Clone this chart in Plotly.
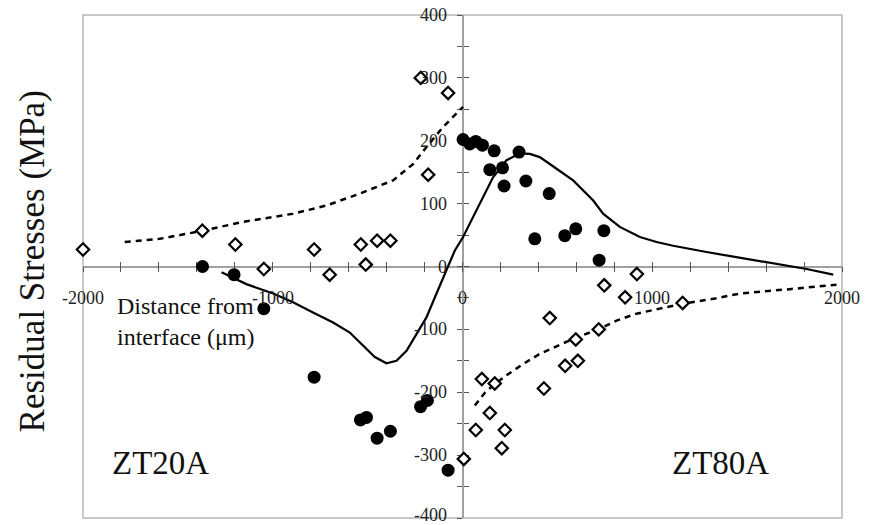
import plotly.graph_objects as go

# ---------------- data ----------------
# filled circles
circ_x = [-1370, -1204, -1047, -782, -538, -506, -450, -380, -221, -185, -76,
          3, 38, 70, 105, 167, 144, 211, 219, 298, 334, 457, 381, 539, 597, 745, 720]
circ_y = [0, -13, -67, -176, -244, -240, -273, -262, -223, -213, -324,
          202, 195, 199, 193, 184, 154, 157, 128, 182, 136, 116, 44, 49, 60, 57, 10]

# open diamonds
diam_x = [-2000, -1371, -1197, -1047, -782, -700, -536, -510, -450, -380, -220, -76, -181,
          7, 70, 102, 144, 170, 207, 223, 429, 460, 541, 597, 608, 718, 747, 857, 919, 1160]
diam_y = [27, 57, 35, -4, 27, -13, 35, 3, 41, 41, 300, 276, 146,
          -306, -260, -179, -233, -186, -289, -260, -194, -82, -158, -116, -150, -100, -30, -49, -12, -58]

# solid model curve
solid_x = [-1270, -1139, -998, -893, -788, -682, -594, -524, -462, -401, -348, -295, -242,
           -190, -137, -84, -41, 3, 74, 161, 232, 302, 355, 407, 460, 583, 689, 741, 829,
           935, 1023, 1110, 1286, 1462, 1637, 1813, 1954]
solid_y = [-9, -28, -43, -57, -73, -89, -105, -126, -144, -154, -150, -134, -107,
           -81, -43, -6, 25, 47, 89, 142, 169, 180, 179, 174, 163, 137, 105, 84, 63,
           47, 39, 33, 23, 14, 4, -4, -13]

# dashed model curves
dashL_x = [-1780, -1596, -1367, -1157, -893, -717, -541, -366, -260, -190, -102, 3]
dashL_y = [39, 44, 57, 71, 84, 97, 116, 137, 163, 190, 222, 254]
dashR_x = [65, 120, 170, 232, 320, 407, 583, 724, 812, 917, 1040, 1163, 1330, 1462, 1725, 1971]
dashR_y = [-221, -200, -187, -173, -155, -139, -115, -99, -86, -75, -67, -59, -51, -43, -36, -29]

# ticks
x_tick_vals = list(range(-2000, 2001, 200))
x_label_vals = [-2000, -1000, 0, 1000, 2000]
x_label_text = ["-2000", "-1000", "0", "1000", "2000"]
y_tick_vals = list(range(-400, 401, 50))
y_label_vals = [400, 300, 200, 100, 0, -100, -200, -300, -400]
y_label_text = ["400", "300", "200", "100", "0", "-100", "-200", "-300", "-400"]

SERIF = "Liberation Serif, Times New Roman, serif"

fig = go.Figure()
dash_style = dict(color="black", width=2.5, dash="6px,5px")
fig.add_trace(go.Scatter(x=dashL_x, y=dashL_y, mode="lines", line=dash_style,
                         cliponaxis=False, showlegend=False, hoverinfo="skip"))
fig.add_trace(go.Scatter(x=dashR_x, y=dashR_y, mode="lines", line=dash_style,
                         cliponaxis=False, showlegend=False, hoverinfo="skip"))
fig.add_trace(go.Scatter(x=solid_x, y=solid_y, mode="lines",
                         line=dict(color="black", width=2.2),
                         cliponaxis=False, showlegend=False))
fig.add_trace(go.Scatter(x=diam_x, y=diam_y, mode="markers",
                         marker=dict(symbol="diamond", size=9.5, color="white",
                                     line=dict(color="black", width=2.2)),
                         cliponaxis=False, showlegend=False))
fig.add_trace(go.Scatter(x=circ_x, y=circ_y, mode="markers",
                         marker=dict(symbol="circle", size=13, color="black",
                                     line=dict(width=0)),
                         cliponaxis=False, showlegend=False))
# helper trace for overlay axes (cross ticks)
fig.add_trace(go.Scatter(x=[None], y=[None], xaxis="x2", yaxis="y2",
                         mode="markers", showlegend=False, hoverinfo="skip"))

common = dict(showgrid=False, zeroline=False, anchor="free", position=0.5,
              showticklabels=False, tickmode="array", layer="below traces",
              ticklen=5, tickwidth=1, tickcolor="#555")

fig.update_layout(
    width=875, height=525,
    margin=dict(l=83, r=33, t=15, b=7),
    paper_bgcolor="white", plot_bgcolor="white",
    showlegend=False,
    xaxis=dict(range=[-2000, 2000], showline=True, linecolor="#a0a0a0", linewidth=1.5,
               ticks="outside", tickvals=x_tick_vals, **common),
    yaxis=dict(range=[-400, 400], showline=True, linecolor="#a0a0a0", linewidth=1.5,
               ticks="outside", tickvals=y_tick_vals, **common),
    xaxis2=dict(range=[-2000, 2000], overlaying="x", showline=False,
                ticks="inside", tickvals=x_tick_vals, **common),
    yaxis2=dict(range=[-400, 400], overlaying="y", showline=False,
                ticks="inside", tickvals=y_tick_vals, **common),
    shapes=[dict(type="rect", xref="paper", yref="paper", x0=0, y0=0, x1=1, y1=1,
                 line=dict(color="#b8b8b8", width=1.5), layer="below")],
)

tickfont = dict(family=SERIF, size=18, color="#222")
for v, t in zip(x_label_vals, x_label_text):
    fig.add_annotation(text=t, x=v, y=0, xref="x", yref="y", xanchor="center",
                       yanchor="middle", yshift=-31, showarrow=False, font=tickfont)
for v, t in zip(y_label_vals, y_label_text):
    fig.add_annotation(text=t, x=0, y=v, xref="x", yref="y", xanchor="right",
                       yanchor="middle", xshift=-14, yshift=(3 if v == -400 else 0),
                       showarrow=False, font=tickfont)

fig.add_annotation(text="Residual Stresses (MPa)", xref="paper", yref="paper",
                   x=-0.066, y=0.51, xanchor="center", yanchor="middle", textangle=-90,
                   showarrow=False, font=dict(family=SERIF, size=35, color="#111"))
fig.add_annotation(text="Distance from<br>interface (\u03bcm)", xref="x", yref="y",
                   x=-1833, y=-88, xanchor="left", yanchor="middle", align="left",
                   showarrow=False, font=dict(family=SERIF, size=24, color="#111"))
fig.add_annotation(text="ZT20A", xref="x", yref="y", x=-1858, y=-312,
                   xanchor="left", yanchor="middle", showarrow=False,
                   font=dict(family=SERIF, size=33, color="#111"))
fig.add_annotation(text="ZT80A", xref="x", yref="y", x=1093, y=-313,
                   xanchor="left", yanchor="middle", showarrow=False,
                   font=dict(family=SERIF, size=33, color="#111"))

fig.write_html("out.html")
